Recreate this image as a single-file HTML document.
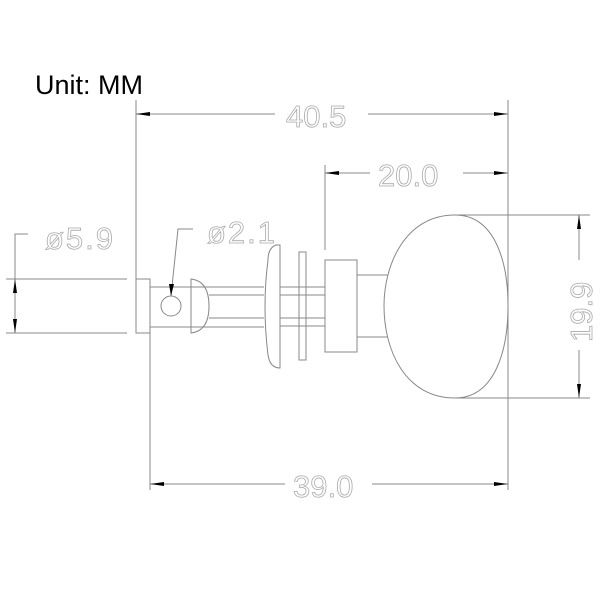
<!DOCTYPE html>
<html><head><style>body{margin:0;background:#fff}svg{display:block}</style></head><body>
<svg width="600" height="600" viewBox="0 0 600 600" xmlns="http://www.w3.org/2000/svg">
<rect width="600" height="600" fill="#fff"/>
<text x="35" y="94" font-family="Liberation Sans, sans-serif" font-size="27" fill="#000">Unit: MM</text>
<g stroke="#888" stroke-width="1" fill="none">
<line x1="136" y1="100" x2="136" y2="279"/>
<line x1="508" y1="100" x2="508" y2="490"/>
<line x1="136" y1="114" x2="275" y2="114"/>
<line x1="368" y1="114" x2="508" y2="114"/>
<line x1="325" y1="165" x2="325" y2="250"/>
<line x1="325" y1="173" x2="370" y2="173"/>
<line x1="463" y1="173" x2="508" y2="173"/>
<line x1="150" y1="333" x2="150" y2="490"/>
<line x1="150" y1="484" x2="285" y2="484"/>
<line x1="372" y1="484" x2="508" y2="484"/>
<line x1="455" y1="215" x2="590" y2="215"/>
<line x1="455" y1="398" x2="590" y2="398"/>
<line x1="579" y1="215" x2="579" y2="260"/>
<line x1="579" y1="350" x2="579" y2="398"/>
<line x1="6" y1="279" x2="127" y2="279"/>
<line x1="6" y1="333" x2="127" y2="333"/>
<polyline points="28,234 15,234 15,333"/>
<polyline points="193,229 178,229 171,296"/>
<rect x="136" y="279" width="14" height="54"/>
<line x1="150" y1="287" x2="264" y2="287"/>
<line x1="150" y1="327" x2="264" y2="327"/>
<line x1="209" y1="295" x2="264" y2="295"/>
<line x1="209" y1="318" x2="264" y2="318"/>
<circle cx="171" cy="306" r="10"/>
<path d="M191,279 Q209,281 209,306 Q209,331 191,333 Z"/>
<path d="M280,245 L276,245 Q268,248 268,260 Q262,306 268,355 Q270,368 280,368 Z"/>
<line x1="280" y1="287" x2="325" y2="287"/>
<line x1="280" y1="295" x2="325" y2="295"/>
<line x1="280" y1="318" x2="325" y2="318"/>
<line x1="280" y1="326" x2="325" y2="326"/>
<rect x="299" y="252" width="7" height="108"/>
<rect x="325" y="260" width="32" height="92"/>
<line x1="357" y1="275" x2="388" y2="275"/>
<line x1="357" y1="337" x2="388" y2="337"/>
<path d="M455,215 C405,215 384,265 384,306 C384,350 405,398 455,398 C495,398 508,350 508,306 C508,262 495,215 455,215 Z"/>
</g>
<g fill="#000">
<polygon points="136,114 150,112 150,116"/>
<polygon points="508,114 494,112 494,116"/>
<polygon points="325,173 339,171 339,175"/>
<polygon points="508,173 494,171 494,175"/>
<polygon points="150,484 164,482 164,486"/>
<polygon points="508,484 494,482 494,486"/>
<polygon points="579,215 577,229 581,229"/>
<polygon points="579,398 577,384 581,384"/>
<polygon points="15,279 13,293 17,293"/>
<polygon points="15,333 13,319 17,319"/>
<polygon points="171,296 169,284 174,284"/>
</g>
<g font-family="Liberation Sans, sans-serif" font-size="31" fill="none" stroke="#aaa" stroke-width="0.8">
<text x="286" y="127">40.5</text>
<text x="378" y="186">20.0</text>
<text x="293" y="497">39.0</text>
<text x="45" y="249" letter-spacing="2">ø5.9</text>
<text x="207" y="243" letter-spacing="2">ø2.1</text>
<text x="0" y="0" transform="translate(592,342) rotate(-90)">19.9</text>
</g>
</svg>
</body></html>
